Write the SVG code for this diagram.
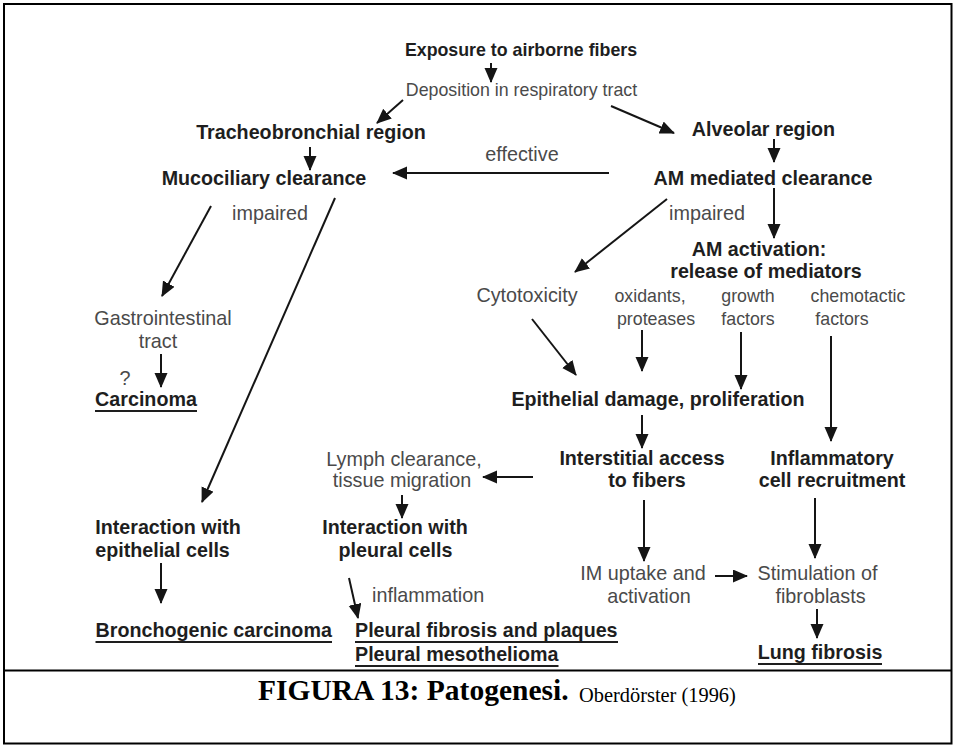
<svg xmlns="http://www.w3.org/2000/svg" width="954" height="745" viewBox="0 0 954 745">
<style>
.b{font-family:"Liberation Sans",Arial,sans-serif;font-weight:bold;font-size:19.7px;fill:#1e1e1e;text-anchor:middle}
.r{font-family:"Liberation Sans",Arial,sans-serif;font-size:19.8px;fill:#4a4a4a;text-anchor:middle}
.s{font-size:17.8px}
.l{text-anchor:start}
.u{stroke:#1e1e1e;stroke-width:2}
.c line{stroke:#151515;stroke-width:2;marker-end:url(#ah)}
.cap{font-family:"Liberation Serif","Times New Roman",serif;fill:#000}
</style>
<defs>
<marker id="ah" markerUnits="userSpaceOnUse" markerWidth="16" markerHeight="14" refX="14" refY="6.5" orient="auto">
<path d="M0,0 L15,6.5 L0,13 z" fill="#151515"/>
</marker>
</defs>
<rect x="4" y="4" width="947.5" height="739.5" fill="#fff" stroke="#000" stroke-width="2"/>
<line x1="4" y1="670.5" x2="951.5" y2="670.5" stroke="#000" stroke-width="2.2"/>

<g id="exposure"><text class="b s" x="521" y="56">Exposure to airborne fibers</text></g>
<g id="deposition"><text class="r s" x="521.5" y="96">Deposition in respiratory tract</text></g>
<g id="tracheobronchial"><text class="b" x="311" y="139">Tracheobronchial region</text></g>
<g id="alveolar"><text class="b" x="763.5" y="136">Alveolar region</text></g>
<g id="mucociliary"><text class="b" x="264" y="185">Mucociliary clearance</text></g>
<g id="label-effective"><text class="r" x="522" y="161" font-size="21">effective</text></g>
<g id="am-clearance"><text class="b" x="763" y="185">AM mediated clearance</text></g>
<g id="label-impaired-left"><text class="r" x="270" y="220">impaired</text></g>
<g id="label-impaired-right"><text class="r" x="707" y="220">impaired</text></g>
<g id="am-activation"><text class="b" x="759" y="256">AM activation:</text><text class="b" x="766" y="278">release of mediators</text></g>
<g id="cytotoxicity"><text class="r" x="527" y="302">Cytotoxicity</text></g>
<g id="oxidants"><text class="r s" x="650" y="302">oxidants,</text><text class="r s" x="656" y="325">proteases</text></g>
<g id="growth"><text class="r s" x="748" y="302">growth</text><text class="r s" x="748" y="325">factors</text></g>
<g id="chemotactic"><text class="r s" x="858" y="302">chemotactic</text><text class="r s" x="842" y="325">factors</text></g>
<g id="gastrointestinal"><text class="r" x="163" y="325">Gastrointestinal</text><text class="r" x="158" y="348">tract</text></g>
<g id="label-question"><text class="r" x="125" y="385">?</text></g>
<g id="carcinoma"><text class="b" x="146" y="406">Carcinoma</text><line class="u" x1="95" y1="411" x2="197" y2="411"/></g>
<g id="epithelial-damage"><text class="b" x="658" y="406">Epithelial damage, proliferation</text></g>
<g id="lymph"><text class="r" x="404" y="466">Lymph clearance,</text><text class="r" x="402" y="487">tissue migration</text></g>
<g id="interstitial"><text class="b" x="642" y="465">Interstitial access</text><text class="b" x="647" y="487">to fibers</text></g>
<g id="inflammatory"><text class="b" x="832" y="465">Inflammatory</text><text class="b" x="832" y="487">cell recruitment</text></g>
<g id="interaction-epithelial"><text class="b" x="168" y="534">Interaction with</text><text class="b" x="162.5" y="557">epithelial cells</text></g>
<g id="interaction-pleural"><text class="b" x="395" y="534">Interaction with</text><text class="b" x="395.5" y="557">pleural cells</text></g>
<g id="label-inflammation"><text class="r l" x="372" y="602">inflammation</text></g>
<g id="im-uptake"><text class="r" x="643" y="580">IM uptake and</text><text class="r" x="649" y="603">activation</text></g>
<g id="stimulation"><text class="r" x="817.5" y="580">Stimulation of</text><text class="r" x="820.5" y="603">fibroblasts</text></g>
<g id="bronchogenic"><text class="b" x="213.7" y="637">Bronchogenic carcinoma</text><line class="u" x1="95.5" y1="642" x2="332" y2="642"/></g>
<g id="pleural"><text class="b l" x="355" y="637">Pleural fibrosis and plaques</text><line class="u" x1="355" y1="642" x2="618" y2="642"/><text class="b l" x="355" y="661">Pleural mesothelioma</text><line class="u" x1="355" y1="666" x2="558.5" y2="666"/></g>
<g id="lung-fibrosis"><text class="b" x="820" y="659">Lung fibrosis</text><line class="u" x1="758" y1="664" x2="882" y2="664"/></g>

<g id="connectors" class="c">
<line x1="491" y1="63" x2="491" y2="82"/>
<line x1="403" y1="100" x2="377" y2="123"/>
<line x1="611" y1="106" x2="674" y2="133"/>
<line x1="310" y1="147" x2="310" y2="170"/>
<line x1="774" y1="139" x2="774" y2="162"/>
<line x1="609" y1="173" x2="393" y2="173"/>
<line x1="211" y1="206" x2="162" y2="296"/>
<line x1="335" y1="198" x2="202" y2="502"/>
<line x1="667" y1="199" x2="575" y2="272"/>
<line x1="774" y1="188" x2="774" y2="238"/>
<line x1="532" y1="319" x2="576" y2="375"/>
<line x1="642" y1="330" x2="642" y2="371"/>
<line x1="741" y1="332" x2="741" y2="389"/>
<line x1="831" y1="336" x2="831" y2="441"/>
<line x1="161" y1="354" x2="161" y2="387"/>
<line x1="642" y1="415" x2="642" y2="448"/>
<line x1="533" y1="477" x2="483" y2="477"/>
<line x1="402" y1="495" x2="402" y2="518"/>
<line x1="644" y1="500" x2="644" y2="561"/>
<line x1="815" y1="498" x2="815" y2="558"/>
<line x1="161" y1="563" x2="161" y2="603"/>
<line x1="349" y1="578" x2="358" y2="618"/>
<line x1="715" y1="576" x2="747" y2="576"/>
<line x1="817" y1="609" x2="817" y2="638"/>
</g>

<g id="caption"><text class="cap" x="258" y="700" font-size="29.5" font-weight="bold">FIGURA 13: Patogenesi.</text><text class="cap" x="579" y="702" font-size="20.4">Oberdörster (1996)</text></g>
</svg>
